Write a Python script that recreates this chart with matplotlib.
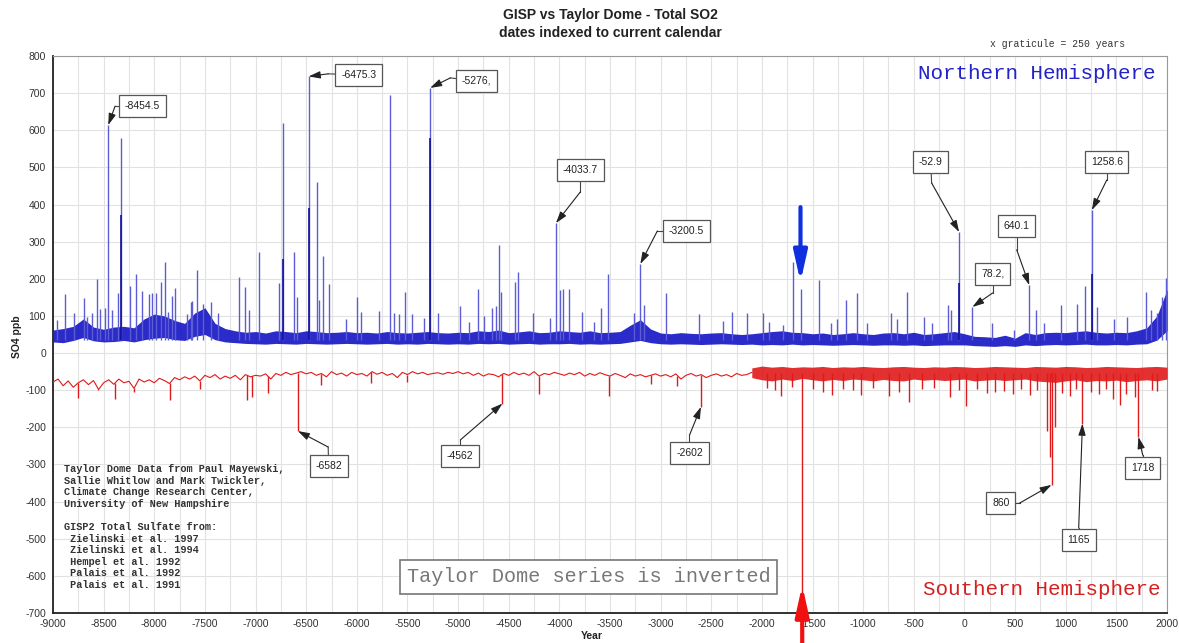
import numpy as np
import matplotlib.pyplot as plt
from matplotlib.ticker import MultipleLocator

plt.rcParams['font.family'] = ['Liberation Sans', 'DejaVu Sans']
plt.rcParams['axes.unicode_minus'] = False

# ---- GISP2 (northern hemisphere): background band every 100 yr
nh_years = np.arange(-9000, 2001, 100)
nh_low = [30, 28, 34, 42, 33, 30, 31, 34, 30, 36,
          40, 42, 36, 34, 45, 50, 36, 30, 28, 26,
          25, 24, 26, 25, 24, 26, 25, 24, 25, 26,
          25, 24, 25, 26, 24, 25, 24, 26, 25, 24,
          25, 24, 26, 25, 26, 24, 25, 26, 24, 25,
          25, 26, 24, 25, 24, 25, 26, 30, 34, 28,
          25, 24, 25, 24, 23, 24, 25, 24, 23, 24,
          22, 23, 22, 24, 22, 23, 22, 21, 22, 23,
          22, 21, 22, 22, 21, 22, 20, 21, 22, 22,
          22, 20, 19, 18, 20, 18, 22, 20, 22, 23,
          22, 23, 24, 22, 22, 23, 22, 24, 25, 35,
          60]
nh_high = [62, 66, 72, 92, 70, 64, 70, 72, 68, 92,
           105, 100, 88, 80, 108, 122, 80, 66, 60, 56,
           58, 54, 60, 58, 55, 60, 58, 55, 56, 58,
           55, 56, 54, 58, 55, 54, 56, 58, 55, 54,
           56, 55, 60, 58, 62, 55, 57, 60, 55, 56,
           60, 58, 56, 60, 55, 56, 58, 75, 90, 65,
           54, 52, 55, 53, 52, 54, 55, 52, 50, 52,
           55, 58, 60, 56, 55, 52, 54, 50, 52, 55,
           52, 50, 54, 55, 52, 56, 50, 52, 55, 58,
           52, 45, 44, 42, 48, 40, 55, 50, 55, 56,
           55, 58, 60, 56, 54, 56, 55, 60, 68, 100,
           170]

# volcanic spikes (year, SO4 ppb)
nh_spike_years = [-8957, -8881, -8792, -8694, -8667, -8618, -8566, -8536, -8486, -8454.5,
                  -8420, -8355, -8331, -8239, -8180, -8121, -8051, -8025, -7982, -7933,
                  -7893, -7861, -7821, -7794, -7679, -7636, -7626, -7577, -7521, -7439,
                  -7370, -7162, -7103, -7060, -6964, -6766, -6727, -6619, -6592, -6475.3,
                  -6391, -6369, -6332, -6273, -6108, -5996, -5957, -5779, -5670, -5637,
                  -5581, -5522, -5456, -5341, -5276, -5196, -4978, -4896, -4800, -4748,
                  -4665, -4626, -4593, -4576, -4435, -4405, -4257, -4089, -4033.7, -3997,
                  -3964, -3901, -3773, -3661, -3585, -3516, -3259, -3200.5, -3167, -2946,
                  -2617, -2389, -2300, -2152, -1985, -1932, -1790, -1691, -1612, -1438,
                  -1322, -1263, -1174, -1065, -960, -729, -663, -571, -400, -317,
                  -163, -136, -52.9, 78.2, 276, 489, 640.1, 707, 786, 951,
                  1116, 1191, 1258.6, 1313, 1478, 1609, 1797, 1840, 1906, 1955,
                  1988]
nh_spike_vals = [90, 159, 108, 148, 97, 108, 199, 118, 121, 614,
                 116, 161, 579, 181, 212, 167, 159, 161, 162, 191,
                 245, 110, 155, 175, 106, 137, 140, 223, 132, 137,
                 108, 205, 178, 116, 272, 189, 620, 272, 152, 745,
                 460, 143, 261, 186, 92, 151, 110, 113, 695, 108,
                 104, 164, 104, 94, 714, 108, 127, 83, 173, 99,
                 121, 127, 291, 164, 191, 218, 108, 94, 350, 170,
                 172, 172, 110, 83, 121, 212, 108, 240, 130, 162,
                 105, 86, 110, 108, 108, 84, 75, 244, 172, 196,
                 80, 93, 143, 161, 80, 107, 93, 165, 98, 80,
                 129, 116, 326, 124, 82, 62, 183, 116, 80, 129,
                 132, 180, 385, 124, 93, 98, 165, 116, 107, 152,
                 202]
nh_dark_years = [-8331, -6727, -6475.3, -5276, -52.9, 1258.6]
nh_dark_vals = [372, 253, 390, 579, 188, 213]

# ---- Taylor Dome (southern hemisphere, inverted)
sh_early_years = np.arange(-9000, -2099, 50)
sh_early_vals = [-78, -70, -88, -75, -92, -80, -72, -85, -74, -98, -80,
                 -72, -84, -70, -80, -76, -95, -70, -78, -72, -80,
                 -68, -74, -82, -66, -72, -64, -70, -62, -75, -60,
                 -66, -58, -70, -62, -68, -60, -72, -58, -64, -60,
                 -62, -56, -70, -55, -60, -52, -58, -54, -50, -56,
                 -52, -60, -55, -64, -50, -58, -54, -62, -52, -58,
                 -55, -62, -50, -57, -52, -60, -55, -66, -52, -58,
                 -50, -56, -52, -58, -55, -53, -57, -52, -55, -50,
                 -56, -52, -60, -54, -62, -56, -58, -64, -55, -60,
                 -52, -58, -54, -60, -50, -62, -55, -58, -52, -56,
                 -60, -54, -58, -52, -62, -55, -60, -53, -58, -62,
                 -55, -60, -66, -56, -62, -58, -64, -60, -56, -62,
                 -58, -64, -56, -70, -60, -55, -62, -58, -66, -60,
                 -56, -62, -58, -64, -55, -60, -58, -52]
sh_dense_years = np.arange(-2100, 2001, 100)
sh_dense_high = [-40, -35, -38, -36, -39, -37, -38, -36, -39, -37,
                 -38, -36, -38, -39, -37, -36, -38, -39, -37, -38,
                 -36, -37, -39, -38, -36, -37, -38, -39, -36, -37,
                 -38, -36, -37, -39, -38, -36, -37, -38, -39, -37,
                 -36, -38]
sh_dense_low = [-66, -72, -75, -70, -74, -68, -72, -75, -71, -74,
                -70, -72, -75, -71, -74, -75, -70, -73, -71, -74,
                -72, -70, -75, -73, -71, -74, -72, -70, -75, -77,
                -79, -75, -72, -77, -74, -75, -73, -77, -74, -72,
                -75, -70]
sh_dip_years = [-8750, -8555, -8387, -8200, -7844, -7550, -7086, -7036, -6875, -6582,
                -6352, -5857, -5502, -4562, -4197, -3506, -3091, -2834, -2602,
                -1950, -1870, -1809, -1700, -1600, -1500, -1400, -1305, -1200, -1100,
                -1025, -900, -748, -650, -550, -420, -300, -146, -50, 17,
                120, 220, 300, 390, 480, 560, 650, 720, 820, 845,
                860, 890, 960, 1040, 1100, 1165, 1250, 1330, 1400, 1465,
                1533, 1600, 1680, 1718, 1850, 1900]
sh_dip_vals = [-121, -100, -123, -105, -126, -96, -126, -117, -108, -210,
               -85, -80, -78, -136, -109, -116, -84, -90, -145,
               -95, -100, -116, -92, -700, -98, -105, -114, -96, -100,
               -114, -95, -116, -104, -133, -98, -94, -118, -100, -142,
               -96, -108, -105, -102, -110, -98, -112, -100, -210, -280,
               -355, -200, -108, -115, -98, -190, -104, -110, -98, -124,
               -140, -110, -118, -226, -100, -102]

# label text, tip, box centre, elbow of leader
callouts = [
    ("-8454.5", (-8454.5, 614), (-8116, 665), (-8387, 665)),
    ("-6475.3", (-6475.3, 745), (-5981, 749), (-6283, 752)),
    ("-5276,", (-5276, 714), (-4820, 733), (-5077, 741)),
    ("-4033.7", (-4033.7, 350), (-3793, 493), (-3793, 434)),
    ("-3200.5", (-3200.5, 240), (-2745, 329), (-3032, 329)),
    ("-52.9", (-52.9, 326), (-334, 515), (-324, 458)),
    ("78.2,", (78.2, 124), (279, 213), (279, 162)),
    ("640.1", (640.1, 183), (516, 342), (516, 278)),
    ("1258.6", (1258.6, 385), (1405, 515), (1405, 466)),
    ("-6582", (-6582, -210), (-6278, -304), (-6283, -253)),
    ("-4562", (-4562, -136), (-4978, -277), (-4978, -234)),
    ("-2602", (-2602, -145), (-2715, -269), (-2715, -221)),
    ("860", (860, -355), (358, -404), (545, -404)),
    ("1165", (1165, -190), (1128, -504), (1128, -471)),
    ("1718", (1718, -226), (1761, -310), (1761, -275)),
]

credits = ("Taylor Dome Data from Paul Mayewski,\n"
           "Sallie Whitlow and Mark Twickler,\n"
           "Climate Change Research Center,\n"
           "University of New Hampshire\n"
           "\n"
           "GISP2 Total Sulfate from:\n"
           " Zielinski et al. 1997\n"
           " Zielinski et al. 1994\n"
           " Hempel et al. 1992\n"
           " Palais et al. 1992\n"
           " Palais et al. 1991")

fig = plt.figure(figsize=(11.79, 6.43), dpi=100)
ax = fig.add_axes([53 / 1179, 30 / 643, 1114 / 1179, 557 / 643])

blue = '#1414c4'
red = '#e01a1a'

ax.fill_between(nh_years, nh_low, nh_high, color=blue, lw=0, alpha=0.9, zorder=3)
ax.vlines(nh_spike_years, 35, nh_spike_vals, color='#5c5cd6', lw=1.0, zorder=3)
ax.vlines(nh_dark_years, 35, nh_dark_vals, color='#10109c', lw=1.2, zorder=3)

ax.plot(sh_early_years, sh_early_vals, color=red, lw=0.8, zorder=3)
ax.fill_between(sh_dense_years, sh_dense_low, sh_dense_high, color=red, lw=0, alpha=0.9, zorder=3)
# dips start from the trace they hang off
dip_x = np.array(sh_dip_years)
dip_top = np.where(dip_x < -2100, np.interp(dip_x, sh_early_years, sh_early_vals), -55)
ax.vlines(sh_dip_years, dip_top, sh_dip_vals, color=red, lw=1.0, zorder=3)

ax.set_xlim(-9000, 2000)
ax.set_ylim(-700, 800)
ax.xaxis.set_major_locator(MultipleLocator(500))
ax.xaxis.set_minor_locator(MultipleLocator(250))
ax.yaxis.set_major_locator(MultipleLocator(100))
ax.grid(True, which='major', color='#e2e2e2', lw=0.8)
ax.grid(True, which='minor', axis='x', color='#e2e2e2', lw=0.8)
ax.set_axisbelow(True)
ax.tick_params(which='both', length=0, labelsize=7.5, labelcolor='#333')
ax.tick_params(axis='y', pad=5)
ax.tick_params(axis='x', pad=4)
for s in ['left', 'bottom']:
    ax.spines[s].set_color('#222')
    ax.spines[s].set_linewidth(1.3)
for s in ['top', 'right']:
    ax.spines[s].set_color('#999')
    ax.spines[s].set_linewidth(0.8)

for txt, tip, box, elbow in callouts:
    ax.plot([box[0], elbow[0]], [box[1], elbow[1]], color='#444', lw=0.8, zorder=5)
    ax.annotate('', xy=tip, xytext=elbow, zorder=5,
                arrowprops=dict(arrowstyle='-|>,head_length=0.7,head_width=0.22',
                                color='#222', lw=0.8, shrinkA=0, shrinkB=0))
    ax.text(box[0], box[1], txt, ha='center', va='center', fontsize=7.5, color='#222', zorder=6,
            bbox=dict(boxstyle='square,pad=0.55', fc='white', ec='#555', lw=0.9))

# big pointer arrows at ~1600 BC
ax.annotate('', xy=(-1619, 191), xytext=(-1619, 393), zorder=7,
            arrowprops=dict(arrowstyle='-|>,head_length=1.8,head_width=0.4', color='#1030e0', lw=3,
                            shrinkA=0, shrinkB=0))
ax.annotate('', xy=(-1602, -625), xytext=(-1602, -800), zorder=7, annotation_clip=False,
            arrowprops=dict(arrowstyle='-|>,head_length=1.8,head_width=0.4', color='#f01010', lw=3,
                            shrinkA=0, shrinkB=0))

ax.text(1889, 752, "Northern Hemisphere", ha='right', va='center', fontsize=15,
        family='Liberation Mono', color='#2323c8', zorder=6)
ax.text(1939, -638, "Southern Hemisphere", ha='right', va='center', fontsize=15,
        family='Liberation Mono', color='#d42020', zorder=6)
ax.text(-3713, -603, "Taylor Dome series is inverted", ha='center', va='center', fontsize=14.5,
        family='Liberation Mono', color='#777', zorder=6,
        bbox=dict(boxstyle='square,pad=0.35', fc='white', ec='#777', lw=1.2))
ax.text(-8891, -299, credits, ha='left', va='top', fontsize=7.4, family='Liberation Mono',
        fontweight='bold', color='#333', linespacing=1.2, zorder=6)

fig.text(0.518, 0.977, "GISP vs Taylor Dome - Total SO2", ha='center', va='center',
         fontsize=10, fontweight='bold', color='#222')
fig.text(0.518, 0.949, "dates indexed to current calendar", ha='center', va='center',
         fontsize=10, fontweight='bold', color='#222')
fig.text(0.897, 0.932, "x graticule = 250 years", ha='center', va='center', fontsize=7,
         family='Liberation Mono', color='#333')
fig.text(0.0144, 0.476, "SO4 ppb", rotation=90, ha='center', va='center', fontsize=7.5,
         fontweight='bold', color='#222')
fig.text(0.502, 0.011, "Year", ha='center', va='center', fontsize=7.5, fontweight='bold', color='#222')

fig.savefig('out.png', dpi=100)
